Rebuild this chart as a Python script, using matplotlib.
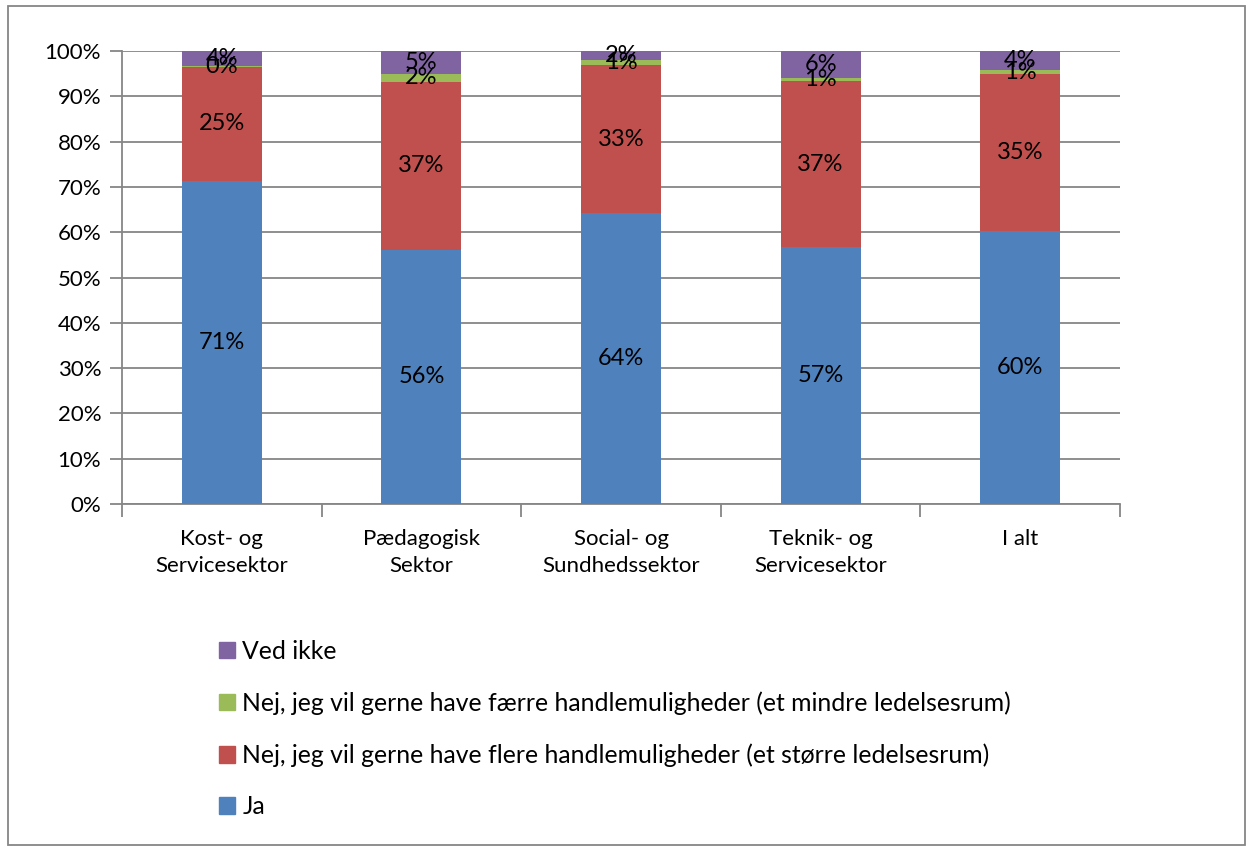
import matplotlib
matplotlib.use("Agg")
from matplotlib import pyplot as plt
from matplotlib.patches import Rectangle, Patch
import numpy as np

plt.rcParams['font.family'] = ['Lato', 'DejaVu Sans']

# Data
kategorier = ["Kost- og\nServicesektor", "Pædagogisk\nSektor", "Social- og\nSundhedssektor",
              "Teknik- og\nServicesektor", "I alt"]
ja = [71.3, 56.1, 64.2, 56.7, 60.3]
flere = [25.2, 37.1, 32.7, 36.7, 34.6]
faerre = [0.2, 1.7, 1.1, 0.6, 0.9]
ved_ikke = [3.3, 5.1, 2.0, 6.0, 4.2]
lbl_ja = ["71%", "56%", "64%", "57%", "60%"]
lbl_flere = ["25%", "37%", "33%", "37%", "35%"]
lbl_faerre = ["0%", "2%", "1%", "1%", "1%"]
lbl_ved = ["4%", "5%", "2%", "6%", "4%"]

serier = [
    ("Ja", ja, lbl_ja, "#4f81bd"),
    ("Nej, jeg vil gerne have flere handlemuligheder (et større ledelsesrum)", flere, lbl_flere, "#c0504d"),
    ("Nej, jeg vil gerne have færre handlemuligheder (et mindre ledelsesrum)", faerre, lbl_faerre, "#9bbb59"),
    ("Ved ikke", ved_ikke, lbl_ved, "#8064a2"),
]

W, H = 1253, 851
fig = plt.figure(figsize=(W / 100, H / 100), dpi=100)
ax = fig.add_axes([122 / W, 1 - 504 / H, (1120 - 122) / W, (504 - 51) / H])

# outer frame
fig.patches.append(Rectangle((8 / W, 6 / H), (1245 - 8) / W, (845 - 6) / H,
                             transform=fig.transFigure, fill=False,
                             edgecolor="#868686", lw=1.3))

x = np.arange(len(kategorier))
bund = np.zeros(len(kategorier))
for navn, vals, lbls, farve in serier:
    vals = np.array(vals) / 100
    ax.bar(x, vals, 0.4, bottom=bund, color=farve, label=navn, zorder=3)
    for xi, b, v, l in zip(x, bund, vals, lbls):
        ax.text(xi, b + v / 2, l, ha="center", va="center",
                fontsize=17, color="black", zorder=4)
    bund = bund + vals

ax.set_xlim(-0.5, len(kategorier) - 0.5)
ax.set_ylim(0, 1)
ax.set_yticks(np.arange(0, 1.01, 0.1))
ax.set_yticklabels([f"{int(round(v * 100))}%" for v in np.arange(0, 1.01, 0.1)], fontsize=16)
ax.yaxis.grid(True, color="#868686", lw=1.3, zorder=0)
ax.set_xticks(x)
ax.set_xticklabels(kategorier, fontsize=16, linespacing=1.45)
ax.tick_params(axis="x", length=0, pad=18)
ax.set_xticks(np.arange(-0.5, len(kategorier)), minor=True)
ax.tick_params(axis="x", which="minor", length=9, color="#868686", width=1.3)
ax.tick_params(axis="y", length=9, color="#868686", width=1.3, pad=6)
for s in ["top", "right"]:
    ax.spines[s].set_visible(False)
for s in ["left", "bottom"]:
    ax.spines[s].set_color("#868686")
    ax.spines[s].set_linewidth(1.3)

handles = [Patch(color=f) for _, _, _, f in serier][::-1]
labels = [n for n, _, _, _ in serier][::-1]
fig.legend(handles, labels, loc="upper left", bbox_to_anchor=(209 / W, 1 - 630 / H),
           frameon=False, fontsize=17.8, labelspacing=1.15, handlelength=0.65,
           handleheight=0.65, handletextpad=0.3, borderaxespad=0)

fig.savefig("out.png", dpi=100)
